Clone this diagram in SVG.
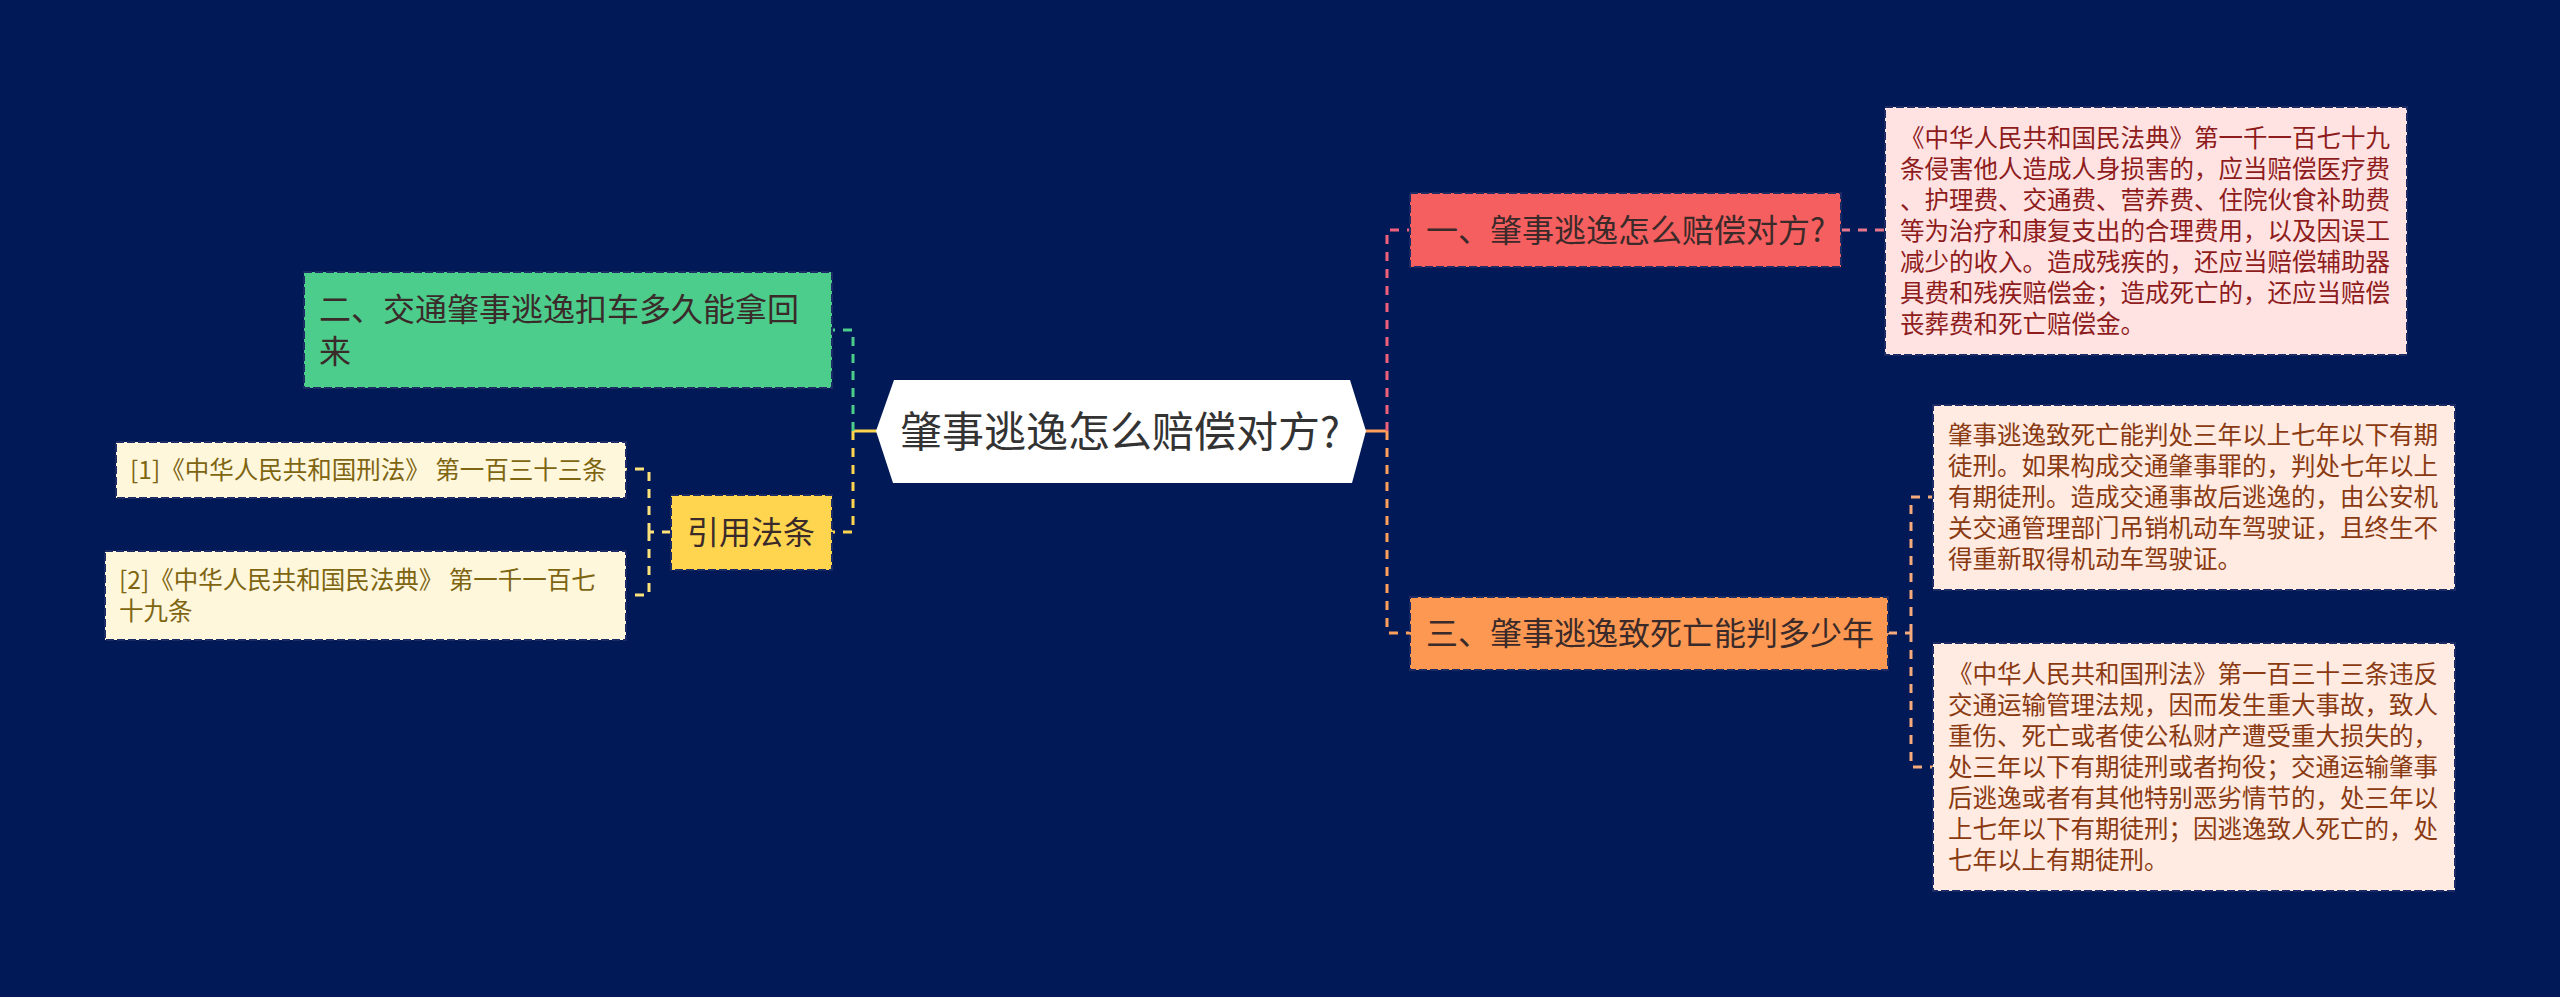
<svg xmlns="http://www.w3.org/2000/svg" width="2560" height="997" viewBox="0 0 2560 997">
<style>
.t{font-family:"Noto Sans CJK SC","Noto Sans",sans-serif;}
.bd{stroke:#1c2b63;stroke-width:2;stroke-dasharray:8 3;}
.c{fill:none;stroke-width:3;stroke-dasharray:9 8;}
.s{fill:none;stroke-width:3;}
.m{font-size:32px;fill:#3b2a2a;}
.d{font-size:24.5px;}
</style>
<rect width="2560" height="997" fill="#011a57"/>
<g id="connectors">
<path class="s" d="M1365 431H1387" stroke="#FF9F5A"/>
<path class="c" d="M1387 431V230H1410" stroke="#F0607A"/>
<path class="c" d="M1387 431V633H1410" stroke="#FF9F5A"/>
<path class="c" d="M1841 230H1885" stroke="#E8768A"/>
<path class="c" d="M1888 633H1911" stroke="#F7AA7C"/>
<path class="c" d="M1911 633V497H1933" stroke="#F7AA7C"/>
<path class="c" d="M1911 633V767H1933" stroke="#F7AA7C"/>
<path class="s" d="M877 431H853" stroke="#FFD54F"/>
<path class="c" d="M853 431V330H832" stroke="#4CCD8C"/>
<path class="c" d="M853 431V532H832" stroke="#FFD54F"/>
<path class="c" d="M671 532H649" stroke="#FFE27A"/>
<path class="c" d="M649 532V469H626" stroke="#FFE27A"/>
<path class="c" d="M649 532V595H626" stroke="#FFE27A"/>
</g>
<g id="center">
<polygon points="876,431 894,380 1350,380 1366,431 1352,483 893,483" fill="#ffffff"/>
<text class="t" x="1120" y="447" font-size="42" fill="#333333" text-anchor="middle">肇事逃逸怎么赔偿对方?</text>
</g>
<g id="n1">
<rect class="bd" x="1410" y="193" width="431" height="74" fill="#F65F5F"/>
<text class="t m" x="1426" y="242">一、肇事逃逸怎么赔偿对方?</text>
</g>
<g id="n1d">
<rect class="bd" x="1885" y="107" width="522" height="248" fill="#FFE3E3"/>
<text class="t d" fill="#8E1C1C" x="1900">
<tspan x="1900" y="147">《中华人民共和国民法典》第一千一百七十九</tspan>
<tspan x="1900" y="178">条侵害他人造成人身损害的，应当赔偿医疗费</tspan>
<tspan x="1900" y="209">、护理费、交通费、营养费、住院伙食补助费</tspan>
<tspan x="1900" y="240">等为治疗和康复支出的合理费用，以及因误工</tspan>
<tspan x="1900" y="271">减少的收入。造成残疾的，还应当赔偿辅助器</tspan>
<tspan x="1900" y="302">具费和残疾赔偿金；造成死亡的，还应当赔偿</tspan>
<tspan x="1900" y="333">丧葬费和死亡赔偿金。</tspan>
</text>
</g>
<g id="n3">
<rect class="bd" x="1410" y="597" width="478" height="73" fill="#FD9852"/>
<text class="t m" x="1426" y="645">三、肇事逃逸致死亡能判多少年</text>
</g>
<g id="n3d1">
<rect class="bd" x="1933" y="405" width="522" height="185" fill="#FFEBE1"/>
<text class="t d" fill="#8A3A12">
<tspan x="1948" y="444">肇事逃逸致死亡能判处三年以上七年以下有期</tspan>
<tspan x="1948" y="475">徒刑。如果构成交通肇事罪的，判处七年以上</tspan>
<tspan x="1948" y="506">有期徒刑。造成交通事故后逃逸的，由公安机</tspan>
<tspan x="1948" y="537">关交通管理部门吊销机动车驾驶证，且终生不</tspan>
<tspan x="1948" y="568">得重新取得机动车驾驶证。</tspan>
</text>
</g>
<g id="n3d2">
<rect class="bd" x="1933" y="643" width="522" height="248" fill="#FFEBE1"/>
<text class="t d" fill="#8A3A12">
<tspan x="1948" y="683">《中华人民共和国刑法》第一百三十三条违反</tspan>
<tspan x="1948" y="714">交通运输管理法规，因而发生重大事故，致人</tspan>
<tspan x="1948" y="745">重伤、死亡或者使公私财产遭受重大损失的，</tspan>
<tspan x="1948" y="776">处三年以下有期徒刑或者拘役；交通运输肇事</tspan>
<tspan x="1948" y="807">后逃逸或者有其他特别恶劣情节的，处三年以</tspan>
<tspan x="1948" y="838">上七年以下有期徒刑；因逃逸致人死亡的，处</tspan>
<tspan x="1948" y="869">七年以上有期徒刑。</tspan>
</text>
</g>
<g id="n2">
<rect class="bd" x="304" y="272" width="528" height="116" fill="#4CCD8C"/>
<text class="t m" fill="#1f3a2c">
<tspan x="319" y="321">二、交通肇事逃逸扣车多久能拿回</tspan>
<tspan x="319" y="363">来</tspan>
</text>
</g>
<g id="ref">
<rect class="bd" x="671" y="495" width="161" height="75" fill="#FFD54F"/>
<text class="t m" x="751" y="544" text-anchor="middle">引用法条</text>
</g>
<g id="ref1">
<rect class="bd" x="116" y="442" width="510" height="56" fill="#FFF7DC"/>
<text class="t d" x="130" y="479" fill="#7E6512">[1]《中华人民共和国刑法》 第一百三十三条</text>
</g>
<g id="ref2">
<rect class="bd" x="105" y="551" width="521" height="89" fill="#FFF7DC"/>
<text class="t d" fill="#7E6512">
<tspan x="119" y="589">[2]《中华人民共和国民法典》 第一千一百七</tspan>
<tspan x="119" y="620">十九条</tspan>
</text>
</g>
</svg>
